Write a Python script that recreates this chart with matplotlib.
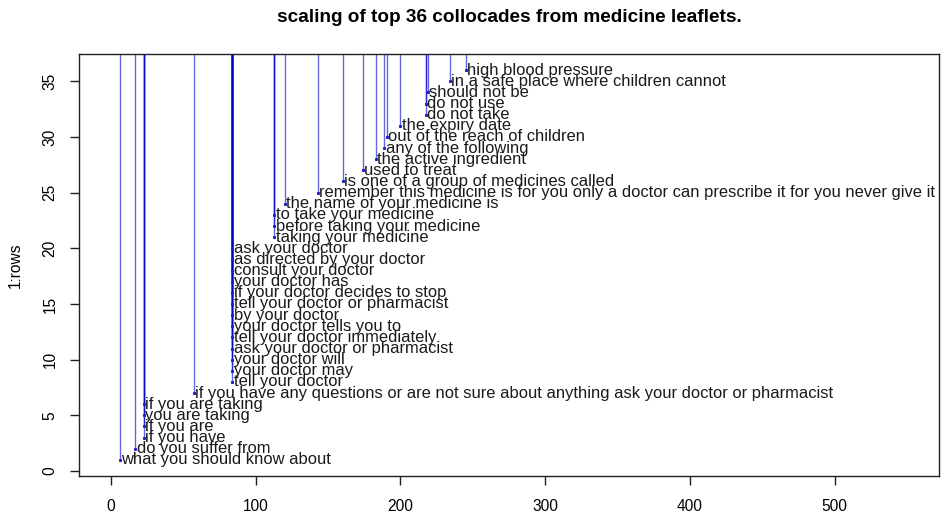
import matplotlib
matplotlib.use("Agg")
import matplotlib.pyplot as plt
import numpy as np

labels = [
    "what you should know about",
    "do you suffer from",
    "if you have",
    "if you are",
    "you are taking",
    "if you are taking",
    "if you have any questions or are not sure about anything ask your doctor or pharmacist",
    "tell your doctor",
    "your doctor may",
    "your doctor will",
    "ask your doctor or pharmacist",
    "tell your doctor immediately",
    "your doctor tells you to",
    "by your doctor",
    "tell your doctor or pharmacist",
    "if your doctor decides to stop",
    "your doctor has",
    "consult your doctor",
    "as directed by your doctor",
    "ask your doctor",
    "taking your medicine",
    "before taking your medicine",
    "to take your medicine",
    "the name of your medicine is",
    "remember this medicine is for you only a doctor can prescribe it for you never give it",
    "is one of a group of medicines called",
    "used to treat",
    "the active ingredient",
    "any of the following",
    "out of the reach of children",
    "the expiry date",
    "do not take",
    "do not use",
    "should not be",
    "in a safe place where children cannot",
    "high blood pressure",
]
xvals = [6, 17, 23, 23, 23, 23, 57.5, 84, 84, 84, 84, 84, 84, 84, 84, 84, 84, 84, 84, 84,
         113, 113, 113, 120, 143, 160, 174, 183, 189, 190.5, 200, 217.5, 217.5, 219, 234, 245]
rows = np.arange(1, len(labels) + 1)
xticks = [0, 100, 200, 300, 400, 500]
yticks = [0, 5, 10, 15, 20, 25, 30, 35]

plt.rcParams['font.family'] = ['Liberation Sans', 'DejaVu Sans']
fig = plt.figure(figsize=(9.44, 5.15), dpi=100)
ax = fig.add_axes([79/944, (515-476)/515, (939-79)/944, (476-54)/515])
ax.set_xlim(-22, 572)
ax.set_ylim(-0.45, 37.45)
ytop = ax.get_ylim()[1]
ax.vlines(xvals, rows, ytop, colors='#0000cc', alpha=0.6, linewidth=1.0)
ax.plot(xvals, rows, linestyle='none', marker='s', markersize=1.2, color='#2020c0')
for x, y, s in zip(xvals, rows, labels):
    ax.text(x + 0.8, y, s, ha='left', va='center', fontsize=11.85, color='#1a1a1a')

ax.set_xticks(xticks)
ax.set_yticks(yticks)
ax.tick_params(axis='x', length=6.5, width=1, labelsize=11.2, pad=10, color='#222222')
ax.tick_params(axis='y', length=6.5, width=1, labelsize=11.2, pad=9, color='#222222')
for lab in ax.get_yticklabels():
    lab.set_rotation(90)
    lab.set_va('center')
for sp in ax.spines.values():
    sp.set_linewidth(1.0)
    sp.set_color('#222222')
ax.set_ylabel('1:rows', fontsize=11.2, labelpad=14)
fig.text(509/944, 1 - 18/515, 'scaling of top 36 collocades from medicine leaflets.',
         ha='center', va='center', fontsize=13.7, fontweight='bold')
fig.savefig('out.png', dpi=100)
